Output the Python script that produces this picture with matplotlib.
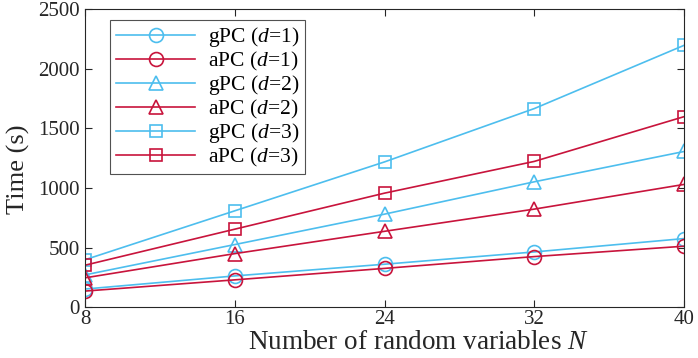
import matplotlib
matplotlib.use("Agg")
import matplotlib.pyplot as plt

# data
N = [8, 16, 24, 32, 40]
gpc_d1 = [152, 262, 360, 463, 575]
apc_d1 = [135, 229, 325, 424, 511]
gpc_d2 = [271, 525, 780, 1051, 1305]
apc_d2 = [246, 449, 636, 822, 1029]
gpc_d3 = [398, 808, 1218, 1665, 2195]
apc_d3 = [352, 654, 956, 1222, 1597]

blue = '#4DBEEE'
red = '#C8143C'

plt.rcParams['font.family'] = ['Liberation Serif', 'DejaVu Serif']
plt.rcParams['mathtext.fontset'] = 'custom'
plt.rcParams['mathtext.it'] = 'Liberation Serif:italic'
plt.rcParams['mathtext.rm'] = 'Liberation Serif'

fig, ax = plt.subplots(figsize=(6.98, 3.58), dpi=100)
fig.subplots_adjust(left=0.122, right=0.98, top=0.975, bottom=0.142)

series = [
    (gpc_d1, blue, 'o', 'gPC ($d$=1)'),
    (apc_d1, red, 'o', 'aPC ($d$=1)'),
    (gpc_d2, blue, '^', 'gPC ($d$=2)'),
    (apc_d2, red, '^', 'aPC ($d$=2)'),
    (gpc_d3, blue, 's', 'gPC ($d$=3)'),
    (apc_d3, red, 's', 'aPC ($d$=3)'),
]
for vals, c, m, lab in series:
    ms = 9 if m == 's' else 10
    ax.plot(N, vals, color=c, marker=m, markersize=ms, markerfacecolor='none',
            markeredgewidth=1.2, linewidth=1.2, label=lab)

ax.set_xlim(8, 40)
ax.set_ylim(0, 2500)
ax.set_xticks(N)
ax.set_yticks([0, 500, 1000, 1500, 2000, 2500])
ax.tick_params(direction='in', top=True, right=True, labelsize=15, length=5,
               colors='#262626', pad=2)
ax.tick_params(axis='y', pad=4)
for sp in ax.spines.values():
    sp.set_color('#262626')
    sp.set_linewidth(0.8)
ax.set_xlabel('Number of random variables $N$', fontsize=19.5, color='#262626')
ax.xaxis.set_label_coords(0.557, -0.078, transform=ax.transAxes)
ax.xaxis.label.set_va('top')
ax.set_ylabel('Time (s)', fontsize=19, color='#262626')
ax.yaxis.set_label_coords(-0.092, 0.463)

leg = ax.legend(loc='upper left', bbox_to_anchor=(0.042, 0.963), fontsize=15.5,
                frameon=True, fancybox=False, edgecolor='#262626',
                handlelength=3.7, labelspacing=0.02, borderpad=0.25,
                handletextpad=0.6, borderaxespad=0)
leg.get_frame().set_linewidth(0.8)

fig.savefig('out.png')
